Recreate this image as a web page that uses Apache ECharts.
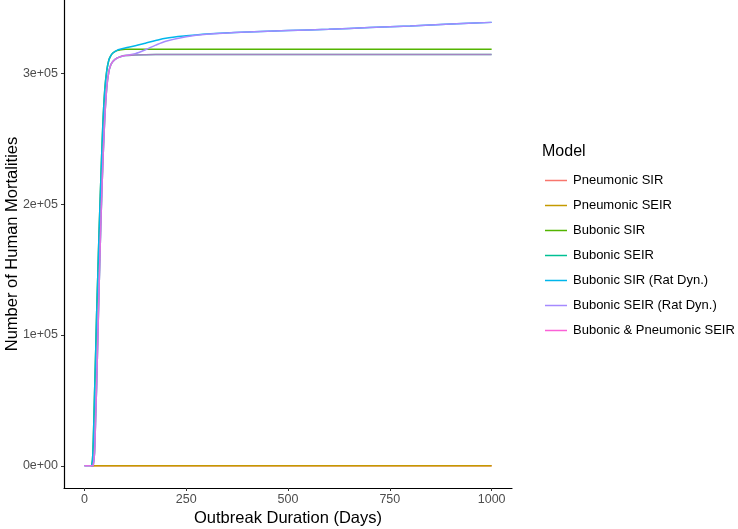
<!DOCTYPE html>
<html>
<head>
  <meta charset="utf-8" />
  <script src="https://cdn.jsdelivr.net/npm/echarts@6/dist/echarts.min.js"></script>
  <style>
    html, body { margin: 0; padding: 0; background: #fff; }
    #main { width: 738px; height: 529px; }
  </style>
  <title>Human Mortalities</title>
</head>
<body>
  <div id="main"></div>
  <script>
    // days since outbreak start
    var days = [0, 10, 17, 18, 20, 22, 25, 28, 30, 33, 36, 40, 45, 50, 55, 60, 65, 70, 80, 90, 100,
      125, 150, 175, 200, 250, 300, 400, 500, 600, 700, 800, 900, 1000];

    var pneumonicSIR = [null, null, 0, 0, 0, 0, 0, 0, 0, 0, 0, 0, 0, 0, 0, 0, 0, 0, 0, 0, 0,
      0, 0, 0, 0, 0, 0, 0, 0, 0, 0, 0, 0, 0];
    var pneumonicSEIR = [null, null, 0, 0, 0, 0, 0, 0, 0, 0, 0, 0, 0, 0, 0, 0, 0, 0, 0, 0, 0,
      0, 0, 0, 0, 0, 0, 0, 0, 0, 0, 0, 0, 0];
    var bubonicSIR = [null, null, 0, 500, 5000, 20000, 55000, 90000, 115000, 146000, 178000, 215000, 258000, 287000, 302000, 310000, 313500, 315500, 317300, 318000, 318300,
      318300, 318300, 318300, 318300, 318300, 318300, 318300, 318300, 318300, 318300, 318300, 318300, 318300];
    var bubonicSEIR = [0, 0, 0, 0, 0, 1000, 10000, 40000, 60000, 97000, 134000, 180000, 228000, 265000, 289000, 301000, 306500, 309000, 311500, 312800, 313500,
      314000, 314200, 314300, 314300, 314300, 314300, 314300, 314300, 314300, 314300, 314300, 314300, 314300];
    var bubonicSIRRat = [null, null, 0, 500, 5000, 20000, 55000, 90000, 115000, 146000, 178000, 215000, 258000, 287000, 302000, 310000, 313500, 315500, 317500, 318500, 319300,
      321000, 323000, 325000, 326800, 328600, 330000, 331600, 332700, 333600, 334900, 336200, 337600, 338900];
    var bubonicSEIRRat = [0, 0, 0, 0, 0, 1000, 10000, 40000, 60000, 97000, 134000, 180000, 228000, 265000, 289000, 301000, 306500, 309000, 311500, 312800, 313500,
      315000, 318000, 321500, 324500, 328000, 329900, 331600, 332700, 333600, 334900, 336200, 337600, 338900];
    var bubonicPneumonicSEIR = [0, 0, 0, 0, 0, 1000, 10000, 40000, 60000, 97000, 134000, 180000, 228000, 265000, 289000, 301000, 306500, 309000, 311500, 312800, 313500,
      314000, 314200, 314300, 314300, 314300, 314300, 314300, 314300, 314300, 314300, 314300, 314300, 314300];

    var modelNames = ['Pneumonic SIR', 'Pneumonic SEIR', 'Bubonic SIR', 'Bubonic SEIR',
      'Bubonic SIR (Rat Dyn.)', 'Bubonic SEIR (Rat Dyn.)', 'Bubonic & Pneumonic SEIR'];
    var modelColors = ['#F8766D', '#C49A00', '#53B400', '#00C094', '#00B6EB', '#A58AFF', '#FB61D7'];

    var xTicks = [0, 250, 500, 750, 1000];
    var xTickLabels = ['0', '250', '500', '750', '1000'];
    var yTicks = [0, 100000, 200000, 300000];
    var yTickLabels = ['0e+00', '1e+05', '2e+05', '3e+05'];

    var allSeries = [pneumonicSIR, pneumonicSEIR, bubonicSIR, bubonicSEIR,
      bubonicSIRRat, bubonicSEIRRat, bubonicPneumonicSEIR];

    function pairs(vals) {
      var out = [];
      for (var i = 0; i < days.length; i++) {
        if (vals[i] !== null) out.push([days[i], vals[i]]);
      }
      return out;
    }

    var series = [];
    for (var k = 0; k < modelNames.length; k++) {
      series.push({
        name: modelNames[k],
        type: 'line',
        data: pairs(allSeries[k]),
        showSymbol: false,
        smooth: 0.3,
        color: modelColors[k],
        lineStyle: { width: 1.5, opacity: k === 6 ? 0.65 : 1 },
        animation: false
      });
    }

    var font = 'Liberation Sans, Arial, sans-serif';
    var myChart = echarts.init(document.getElementById('main'));
    var option = {
      animation: false,
      textStyle: { fontFamily: font },
      title: {
        text: 'Model',
        left: 537,
        top: 139,
        textStyle: { fontSize: 16, fontWeight: 'normal', color: '#000', fontFamily: font }
      },
      legend: {
        orient: 'vertical',
        left: 540,
        top: 168,
        icon: 'rect',
        itemWidth: 22,
        itemHeight: 1.5,
        itemGap: 10,
        data: modelNames,
        textStyle: { fontSize: 13, color: '#000', lineHeight: 15, padding: [0, 0, 0, 1], fontFamily: font }
      },
      grid: { left: 64, right: 226, top: 0, bottom: 41, outerBoundsMode: 'none', containLabel: false },
      xAxis: {
        type: 'value',
        min: -50,
        max: 1050,
        name: 'Outbreak Duration (Days)',
        nameLocation: 'middle',
        nameGap: 22,
        nameMoveOverlap: false,
        nameTextStyle: { fontSize: 16.5, color: '#000', fontFamily: font },
        axisLine: { onZero: false, lineStyle: { color: '#000', width: 1.2 } },
        axisTick: { length: 3, lineStyle: { color: '#333' }, customValues: xTicks },
        axisLabel: {
          customValues: xTicks, color: '#4d4d4d', fontSize: 12.5, margin: 5, fontFamily: font,
          formatter: function (v) {
            var i = xTicks.indexOf(v);
            return i >= 0 ? xTickLabels[i] : '';
          }
        },
        splitLine: { show: false }
      },
      yAxis: {
        type: 'value',
        min: -16950,
        max: 356000,
        name: 'Number of Human Mortalities',
        nameLocation: 'middle',
        nameGap: 43,
        nameMoveOverlap: false,
        nameTextStyle: { fontSize: 16.5, color: '#000', fontFamily: font },
        axisLine: { show: true, onZero: false, lineStyle: { color: '#000', width: 1.2 } },
        axisTick: { show: true, length: 3, lineStyle: { color: '#333' }, customValues: yTicks },
        axisLabel: {
          customValues: yTicks,
          color: '#4d4d4d',
          fontSize: 12.5,
          margin: 6,
          fontFamily: font,
          formatter: function (v) {
            var i = yTicks.indexOf(v);
            return i >= 0 ? yTickLabels[i] : '';
          }
        },
        splitLine: { show: false }
      },
      series: series
    };
    myChart.setOption(option);
  </script>
</body>
</html>
